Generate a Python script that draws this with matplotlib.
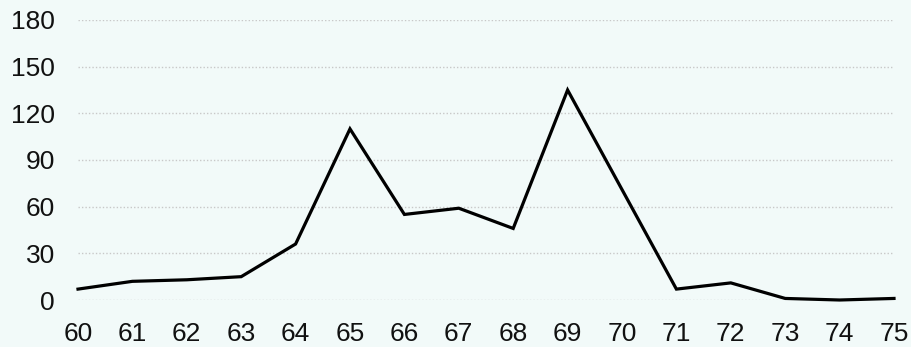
import matplotlib
matplotlib.use("Agg")
import matplotlib.pyplot as plt

x_values = [60, 61, 62, 63, 64, 65, 66, 67, 68, 69, 70, 71, 72, 73, 74, 75]
y_values = [7, 12, 13, 15, 36, 110, 55, 59, 46, 135, 71, 7, 11, 1, 0, 1]
y_ticks = [0, 30, 60, 90, 120, 150, 180]

bg = "#f2faf9"
plt.rcParams['font.family'] = ['Liberation Sans', 'DejaVu Sans']

fig = plt.figure(figsize=(9.12, 3.47), dpi=100, facecolor=bg)
ax = fig.add_axes([78/912, 1 - 300/347, (894 - 78)/912, 280/347])
ax.set_facecolor(bg)

ax.plot(x_values, y_values, color="black", linewidth=2.3, solid_joinstyle="miter", clip_on=False, zorder=3)

ax.set_xlim(60, 75)
ax.set_ylim(0, 180)
ax.set_xticks(x_values)
ax.set_yticks(y_ticks)
ax.tick_params(axis="both", length=0, labelsize=19, colors="#111111")
ax.tick_params(axis="y", pad=16.5)
ax.tick_params(axis="x", pad=15.5)
ax.grid(axis="y", color="#c8c8c8", linestyle=(0, (1, 1.5)), linewidth=1)
ax.set_axisbelow(True)
for s in ax.spines.values():
    s.set_visible(False)

fig.savefig("out.png", dpi=100, facecolor=bg)
